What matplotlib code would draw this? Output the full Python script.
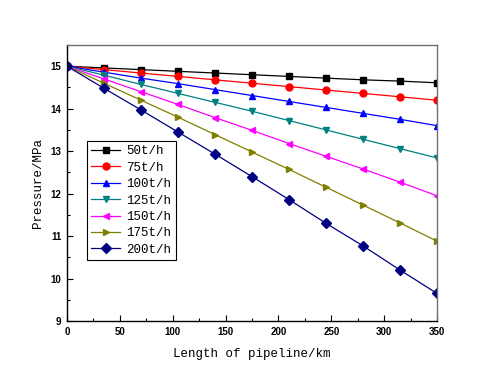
import matplotlib
matplotlib.use("Agg")
import matplotlib.pyplot as plt
from matplotlib.ticker import MultipleLocator

length_km = [0, 35, 70, 105, 140, 175, 210, 245, 280, 315, 350]
labels = ["50t/h", "75t/h", "100t/h", "125t/h", "150t/h", "175t/h", "200t/h"]
p50 = [15, 14.96, 14.92, 14.88, 14.84, 14.80, 14.76, 14.72, 14.68, 14.65, 14.61]
p75 = [15, 14.92, 14.84, 14.76, 14.68, 14.60, 14.52, 14.44, 14.36, 14.28, 14.20]
p100 = [15, 14.86, 14.72, 14.59, 14.45, 14.31, 14.17, 14.03, 13.89, 13.75, 13.60]
p125 = [15, 14.79, 14.57, 14.36, 14.15, 13.94, 13.72, 13.50, 13.28, 13.06, 12.84]
p150 = [15, 14.70, 14.40, 14.10, 13.79, 13.49, 13.18, 12.88, 12.58, 12.27, 11.95]
p175 = [15, 14.60, 14.20, 13.80, 13.39, 12.98, 12.57, 12.15, 11.73, 11.31, 10.88]
p200 = [15, 14.48, 13.97, 13.45, 12.93, 12.40, 11.86, 11.30, 10.77, 10.20, 9.65]

series = [p50, p75, p100, p125, p150, p175, p200]
colors = ["#000000", "#ff0000", "#0000ff", "#008080", "#ff00ff", "#808000", "#000080"]
markers = ["s", "o", "^", "v", "<", ">", "D"]

fig = plt.figure(figsize=(4.8, 3.87), dpi=100)
ax = fig.add_axes([67/480, 1-321/387, 370/480, 276/387])

for y, c, m, lab in zip(series, colors, markers, labels):
    ax.plot(length_km, y, color=c, marker=m, markersize=5, linewidth=0.9, label=lab)

ax.set_xlim(0, 350)
ax.set_ylim(9, 15.5)
ax.xaxis.set_major_locator(MultipleLocator(50))
ax.xaxis.set_minor_locator(MultipleLocator(25))
ax.yaxis.set_major_locator(MultipleLocator(1))
ax.yaxis.set_minor_locator(MultipleLocator(0.5))
ax.tick_params(which="both", direction="in", top=False, right=False)
ax.tick_params(which="major", length=4, width=0.8, labelsize=7, pad=4)
ax.tick_params(which="minor", length=2, width=0.8)
for lbl in ax.get_xticklabels() + ax.get_yticklabels():
    lbl.set_fontweight("bold")
    lbl.set_family("Liberation Sans")
for s in ["top", "right"]:
    ax.spines[s].set_color("#707070")
for s in ax.spines.values():
    s.set_linewidth(1.0)

ax.set_xlabel("Length of pipeline/km", family="Liberation Mono", fontsize=9, labelpad=8)
ax.set_ylabel("Pressure/MPa", family="Liberation Mono", fontsize=9, labelpad=5)

leg = ax.legend(loc="upper left", bbox_to_anchor=(20/370, 1-96/276), prop={"family": "Liberation Mono", "size": 9},
                frameon=True, fancybox=False, edgecolor="black", framealpha=1,
                handlelength=2.3, handletextpad=0.5, labelspacing=0.35, borderpad=0.35, borderaxespad=0)
leg.get_frame().set_linewidth(0.8)

fig.savefig("out.png", dpi=100)
